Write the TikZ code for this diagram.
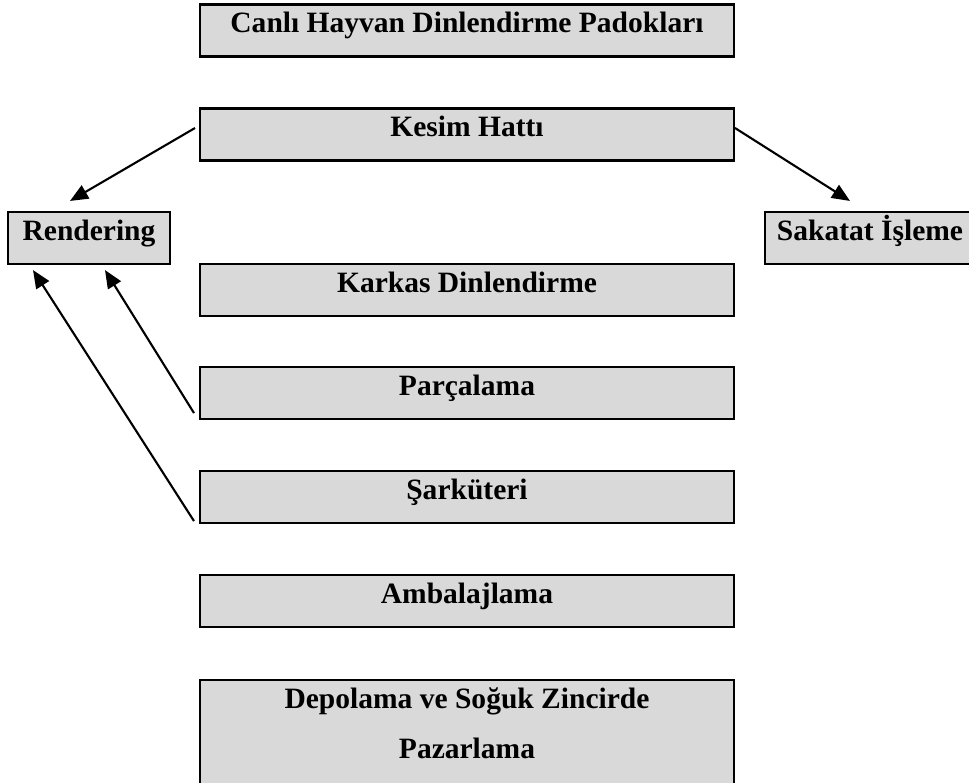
\documentclass[tikz,border=0pt]{standalone}
\usepackage{fontspec}
\setmainfont{Liberation Serif}
\usepackage{xcolor}
\usepackage{tikz}
\usetikzlibrary{arrows.meta}
\definecolor{blockbg}{RGB}{217,217,217}

\begin{document}
\begin{tikzpicture}[
    x=0.02cm, y=-0.02cm,
    block/.style={rectangle, draw, fill=blockbg, line width=1.2pt, minimum width=10.68cm, minimum height=1.04cm, align=center, inner sep=0pt,
        text height=0.4cm, text depth=0.32cm, font=\bfseries\fontsize{16.8}{28.45}\selectfont},
    arrow/.style={-{Triangle[length=0.36cm, width=0.3cm]}, line width=1.2pt}
]
    \useasboundingbox (0,0) rectangle (969,782);
    \clip (0,0) rectangle (969,782);

    % Main line
    \node[block] (canli) at (467,30.5) {Canlı Hayvan Dinlendirme Padokları};
    \node[block] (kesim) at (467,134.5) {Kesim Hattı};
    \node[block] (karkas) at (467,290) {Karkas Dinlendirme};
    \node[block] (parcalama) at (467,393) {Parçalama};
    \node[block] (sarkuteri) at (467,497) {Şarküteri};
    \node[block] (ambalaj) at (467,601) {Ambalajlama};
    \node[block, minimum height=2.2cm, text height=1.12cm, text depth=0.2cm] (depolama) at (467,735) {Depolama ve Soğuk Zincirde\\Pazarlama};

    % Side units
    \node[block, minimum width=3.24cm] (rendering) at (89,238) {Rendering};
    \node[block, minimum width=4.2cm] (sakatat) at (870,238) {Sakatat İşleme};

    % Arrows
    \draw[arrow] ([xshift=-0.08cm, yshift=0.13cm]kesim.west) -- ([xshift=-0.38cm, yshift=0.2cm]rendering.north);
    \draw[arrow] ([yshift=0.13cm]kesim.east) -- ([xshift=-0.4cm, yshift=0.2cm]sakatat.north);
    \draw[arrow] ([xshift=-0.1cm, yshift=0.14cm]parcalama.south west) -- ([xshift=0.32cm, yshift=-0.1cm]rendering.south);
    \draw[arrow] ([xshift=-0.1cm, yshift=0.06cm]sarkuteri.south west) -- ([xshift=-1.12cm, yshift=-0.1cm]rendering.south);
\end{tikzpicture}
\end{document}
